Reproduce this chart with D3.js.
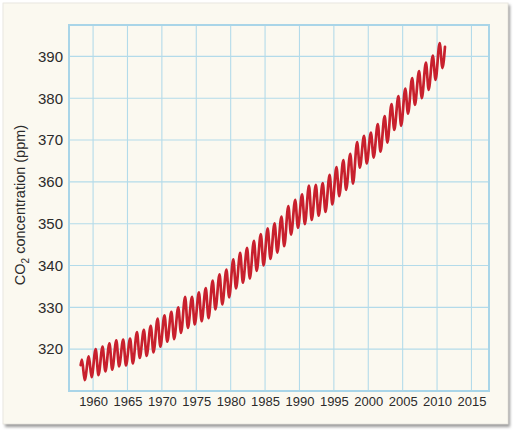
<!DOCTYPE html>
<html>
<head>
<meta charset="utf-8">
<script src="https://cdn.jsdelivr.net/npm/d3@7"></script>
<style>
  body { margin: 0; background: #fff; }
  text { font-family: "Liberation Sans", Arial, sans-serif; fill: #2b2b2b; }
</style>
</head>
<body>
<svg id="chart"></svg>
<script>
// Mauna Loa CO2: one seasonal high (about May) and
// one seasonal low (about Oct) per year
const years = d3.range(1958, 2011)
const highs = [317.5, 318.3, 320.0, 320.6, 321.4, 322.1, 322.3, 322.5, 324.1, 324.6,
  325.6, 327.3, 328.1, 328.9, 330.0, 332.5, 332.5, 333.6, 334.6, 336.4,
  337.9, 339.0, 341.5, 343.0, 344.2, 345.9, 347.5, 348.9, 350.1, 351.7,
  354.2, 355.7, 357.0, 359.1, 359.3, 359.7, 361.7, 363.5, 365.2, 366.7,
  369.5, 371.0, 371.8, 373.8, 375.7, 378.6, 380.5, 382.3, 384.8, 386.5,
  388.5, 390.2, 393.2]
const lows = [312.6, 313.3, 313.8, 314.7, 315.1, 315.9, 316.1, 316.6, 317.9, 318.4,
  319.2, 320.6, 321.8, 322.4, 323.9, 325.1, 325.9, 326.7, 327.4, 329.5,
  330.7, 332.4, 334.5, 335.9, 336.9, 338.7, 340.0, 341.6, 343.1, 344.6,
  347.4, 349.0, 349.9, 350.9, 351.9, 352.8, 354.6, 356.6, 358.1, 359.6,
  363.4, 364.4, 365.8, 367.2, 369.4, 372.4, 373.4, 376.3, 378.4, 380.0,
  382.0, 384.4, 387.2]
const firstPoint = [1958.2, 316.2]
const lastPoint = [2011.15, 392.3]

const yTicks = [320, 330, 340, 350, 360, 370, 380, 390]
const xTicks = [1960, 1965, 1970, 1975, 1980, 1985, 1990, 1995, 2000, 2005, 2010, 2015]

const W = 517, H = 433
const svg = d3.select('#chart').attr('width', W).attr('height', H)

// card with a soft shadow
const defs = svg.append('defs')
const blur = defs.append('filter').attr('id', 'shadow').attr('x', '-5%').attr('y', '-5%').attr('width', '110%').attr('height', '110%')
blur.append('feGaussianBlur').attr('stdDeviation', 1.6)
svg.append('rect')
  .attr('x', 5).attr('y', 5).attr('width', 505).attr('height', 422)
  .attr('fill', '#9a9a9a').attr('filter', 'url(#shadow)')
svg.append('rect')
  .attr('x', 3).attr('y', 3).attr('width', 505).attr('height', 421)
  .attr('fill', '#fbf9f0').attr('stroke', '#e6e4dc').attr('stroke-width', 0.8)

const plotL = 69, plotR = 489, plotT = 25, plotB = 391

const x = d3.scaleLinear().domain([1956.5, 2017.55]).range([plotL, plotR])
const y = d3.scaleLinear().domain([310, 397.5]).range([plotB, plotT])

const grid = svg.append('g')
grid.selectAll('line.v').data(xTicks).enter().append('line')
  .attr('x1', d => x(d)).attr('x2', d => x(d))
  .attr('y1', plotT).attr('y2', plotB)
  .attr('stroke', '#b3dbea').attr('stroke-width', 1.1)
grid.selectAll('line.h').data(yTicks).enter().append('line')
  .attr('x1', plotL).attr('x2', plotR)
  .attr('y1', d => y(d)).attr('y2', d => y(d))
  .attr('stroke', '#b3dbea').attr('stroke-width', 1.1)
svg.append('rect')
  .attr('x', plotL).attr('y', plotT).attr('width', plotR - plotL).attr('height', plotB - plotT)
  .attr('fill', 'none').attr('stroke', '#a9d5e8').attr('stroke-width', 2)

// axes: labels only, no domain lines or tick marks
const yAxis = d3.axisLeft(y).tickValues(yTicks).tickSize(0).tickPadding(6)
svg.append('g').attr('transform', `translate(${plotL},0)`).call(yAxis)
  .call(g => g.select('.domain').remove())
  .call(g => g.selectAll('text').attr('font-size', 15).attr('fill', '#2b2b2b')
    .style('font-family', '"Liberation Sans", Arial, sans-serif'))

const xAxis = d3.axisBottom(x).tickValues(xTicks).tickFormat(d3.format('d')).tickSize(0).tickPadding(6)
svg.append('g').attr('transform', `translate(0,${plotB})`).call(xAxis)
  .call(g => g.select('.domain').remove())
  .call(g => g.selectAll('text').attr('font-size', 13).attr('fill', '#2b2b2b')
    .style('font-family', '"Liberation Sans", Arial, sans-serif'))

const yLabel = svg.append('text')
  .attr('transform', 'translate(25,205) rotate(-90)')
  .attr('text-anchor', 'middle')
  .attr('font-size', 14.5)
yLabel.append('tspan').text('CO')
yLabel.append('tspan').text('2').attr('font-size', 10).attr('dy', 4)
yLabel.append('tspan').text(' concentration (ppm)').attr('dy', -4)

// build the seasonal wave from the highs and lows
const points = [firstPoint]
years.forEach((yr, i) => {
  points.push([yr + 0.38, highs[i]])
  points.push([yr + 0.78, lows[i]])
})
points.push(lastPoint)

const line = d3.line()
  .x(d => x(d[0]))
  .y(d => y(d[1]))
  .curve(d3.curveMonotoneX)

svg.append('path')
  .datum(points)
  .attr('d', line)
  .attr('fill', 'none')
  .attr('stroke', '#c8202d')
  .attr('stroke-width', 2.7)
  .attr('stroke-linejoin', 'round')
  .attr('stroke-linecap', 'round')
</script>
</body>
</html>
